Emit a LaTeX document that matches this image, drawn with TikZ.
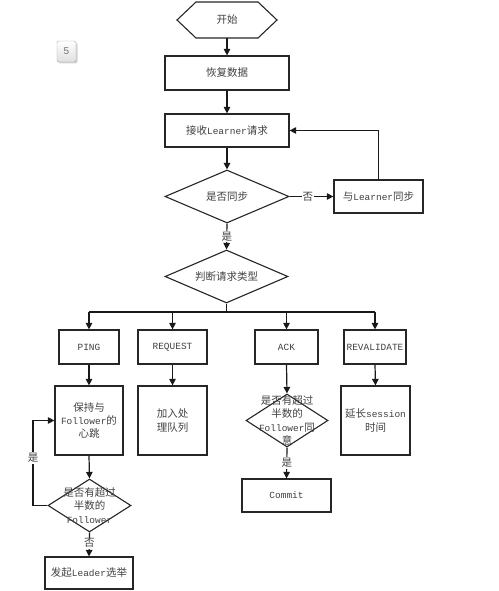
\documentclass[tikz,border=0pt]{standalone}
\usepackage{fontspec}
\setmainfont{Liberation Mono}[Scale=0.9]
\newfontfamily\cjk{Noto Sans CJK SC}
\newfontfamily\badgefont{Liberation Sans}
\newcommand\zh[1]{{\cjk #1}}
\usetikzlibrary{arrows.meta,shapes.geometric,shadows}
\begin{document}
\begin{tikzpicture}[x=1pt,y=-1pt,
  every node/.style={font=\fontsize{10.5}{13.3}\selectfont, text=black!75},
  box/.style={draw=black!85, line width=1.2pt, inner sep=0pt, align=center},
  dia/.style={draw=black!85, line width=1.1pt, diamond, inner sep=0pt},
  dtext/.style={align=center, inner sep=0pt},
  lbl/.style={fill=white, inner sep=1pt},
  arr/.style={draw=black!90, line width=1.2pt, -{Triangle[width=6.5pt,length=6.5pt]}},
  ln/.style={draw=black!90, line width=1.2pt}]
\useasboundingbox (0,0) rectangle (498,591);

% badge
\node[draw=gray!70, rounded corners=2pt, top color=white, bottom color=gray!25,
  minimum width=19pt, minimum height=21pt, inner sep=0pt,
  drop shadow={shadow xshift=1.5pt, shadow yshift=-1.5pt, opacity=0.35},
  font=\badgefont\fontsize{10}{12}\selectfont, text=gray!90!black] (badge) at (66.5,51.5) {5};

% start hexagon
\draw[line width=1.1pt, draw=black!85] (177,20) -- (196,2) -- (258,2) -- (277,20) -- (258,38) -- (196,38) -- cycle;
\node[inner sep=0pt, minimum width=100pt, minimum height=36pt] (start) at (227,20) {\zh{开始}};

\node[box, minimum width=124pt, minimum height=34pt] (restore) at (227,73) {\zh{恢复数据}};
\node[box, minimum width=124pt, minimum height=33pt] (recv) at (227,130.5) {\zh{接收}Learner\zh{请求}};
\node[dia, minimum width=124pt, minimum height=53pt] (sync) at (227,196.5) {};
\node[dtext] (synct) at (227,196.5) {\zh{是否同步}};
\node[box, minimum width=89pt, minimum height=33pt] (dosync) at (378.5,196.5) {\zh{与}Learner\zh{同步}};
\node[dia, minimum width=123pt, minimum height=53pt] (judge) at (226.5,276.5) {};
\node[dtext] (judget) at (226.5,276.5) {\zh{判断请求类型}};

\node[box, minimum width=60pt, minimum height=34pt] (ping) at (89,347) {PING};
\node[box, minimum width=69pt, minimum height=34pt] (req) at (172.5,347) {REQUEST};
\node[box, minimum width=63pt, minimum height=34pt] (ack) at (286.5,347) {ACK};
\node[box, minimum width=62pt, minimum height=34pt] (reval) at (375,347) {REVALIDATE};

\node[box, minimum width=68pt, minimum height=69pt] (keep) at (89,420.5) {\zh{保持与}\\Follower\zh{的}\\\zh{心跳}};
\node[box, minimum width=69pt, minimum height=69pt] (queue) at (172.5,420.5) {\zh{加入处}\\\zh{理队列}};
\node[dia, minimum width=82pt, minimum height=53pt] (ackd) at (287,420.5) {};
\node[dtext] (ackdt) at (287,420.5) {\zh{是否有超过}\\\zh{半数的}\\Follower\zh{同}\\\zh{意}};
\node[box, minimum width=69pt, minimum height=69pt] (extend) at (375.5,420.5) {\zh{延长}session\\\zh{时间}};

\node[box, minimum width=89pt, minimum height=33pt] (commit) at (286.5,495.5) {Commit};
\node[dia, minimum width=83pt, minimum height=53pt] (pingd) at (89.5,505.5) {};
\node[dtext] (pingdt) at (89.5,505.5) {\zh{是否有超过}\\\zh{半数的}\\Follower};
\node[box, minimum width=88pt, minimum height=32pt] (elect) at (89,573) {\zh{发起}Leader\zh{选举}};

% connectors
\draw[arr] (start.south) -- (restore.north);
\draw[arr] (restore.south) -- (recv.north);
\draw[arr] (recv.south) -- (sync.north);
\draw[arr] (sync.east) -- (dosync.west) node[lbl, pos=0.42] {\zh{否}};
\draw[arr] (dosync.north) |- (recv.east);
\draw[arr] (sync.south) -- (judge.north) node[lbl, pos=0.5] {\zh{是}};

\coordinate (br) at (226.5,312);
\draw[ln] (judge.south) -- (br);
\draw[ln] (ping.north |- br) -- (reval.north |- br);
\draw[arr] (ping.north |- br) -- (ping.north);
\draw[arr] (req.north |- br) -- (req.north);
\draw[arr] (ack.north |- br) -- (ack.north);
\draw[arr] (reval.north |- br) -- (reval.north);

\draw[arr] (ping.south) -- (keep.north);
\draw[arr] (req.south) -- (queue.north);
\draw[arr] (ack.south) -- (ackd.north);
\draw[arr] (reval.south) -- (extend.north);

\draw[arr] (ackd.south) -- (commit.north) node[lbl, pos=0.5] {\zh{是}};
\draw[arr] (keep.south) -- (pingd.north);
\draw[arr] (pingd.south) -- (elect.north) node[lbl, pos=0.45] {\zh{否}};
\coordinate (lp) at (33,505.5);
\draw[arr] (pingd.west) -- (lp) |- (keep.west);
\node[lbl] (yes2) at (33,458) {\zh{是}};
\end{tikzpicture}
\end{document}
